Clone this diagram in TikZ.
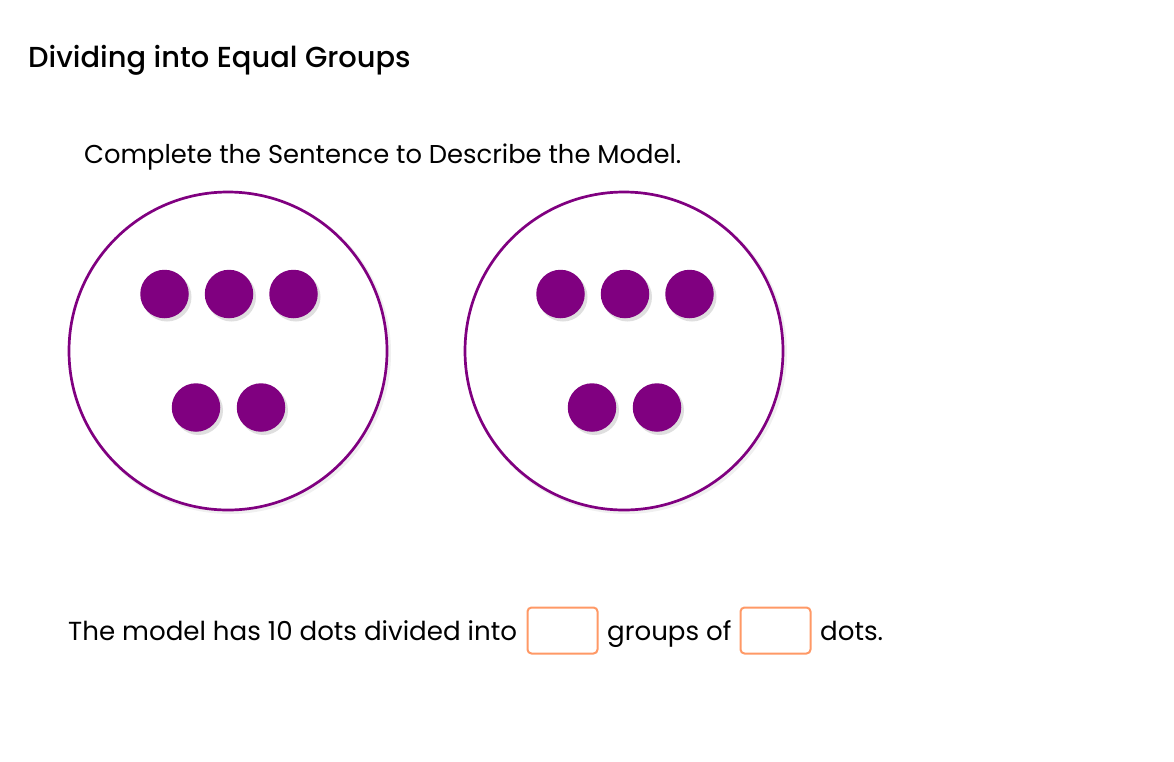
\documentclass[tikz,border=0pt]{standalone}
\usepackage{fontspec}
\setmainfont{Poppins}
\newfontfamily\medfont{Poppins}[UprightFont=* Medium]
\definecolor{plum}{HTML}{800080}
\definecolor{boxorange}{HTML}{FF9966}
\begin{document}
\begin{tikzpicture}[x=1pt,y=-1pt,
  group/.style={circle,draw=plum,line width=2.7pt,fill=white,minimum size=318pt,inner sep=0pt},
  dotshadow/.style={circle,fill=black!35,opacity=0.35,minimum size=49pt,inner sep=0pt},
  counter/.style={circle,fill=plum,minimum size=48.5pt,inner sep=0pt},
  answerbox/.style={draw=boxorange,line width=2pt,rounded corners=4pt,minimum width=70pt,minimum height=46pt,inner sep=0pt},
  txt/.style={anchor=base west,inner sep=0pt,text=black},
  body/.style={txt,font=\fontsize{26.1}{31}\selectfont}]
\useasboundingbox (0,0) rectangle (1174,761);
\fill[white] (0,0) rectangle (1174,761);
% titles
\node[txt,font=\medfont\fontsize{28.9}{34}\selectfont] (title) at (28,67) {Dividing into Equal Groups};
\node[body,font=\fontsize{25.8}{31}\selectfont] (sub) at (84,163) {Complete the Sentence to Describe the Model.};
% circle shadows
\fill[black,opacity=0.06] (230,353) circle (161);
\fill[black,opacity=0.06] (626,353) circle (161);
\node[group] (g1) at (228,351) {};
\node[group] (g2) at (624,351) {};
% dots
\foreach \cx/\nm in {228/a,624/b}{
  \foreach \dx/\dy/\k in {-63.5/-57/1,1/-57/2,65.5/-57/3,-32/56.5/4,33/56.5/5}{
    \node[dotshadow] at (\cx+\dx+2.5,351+\dy+3) {};
    \node[counter] (\nm\k) at (\cx+\dx,351+\dy) {};
  }
}
% sentence
\node[body] (s1) at (68,640) {The model has 10 dots divided into};
\node[answerbox] (box1) at (562.5,630.5) {};
\node[body] (s2) at (607,640) {groups of};
\node[answerbox] (box2) at (775.5,630.5) {};
\node[body] (s3) at (820,640) {dots.};
\end{tikzpicture}
\end{document}
